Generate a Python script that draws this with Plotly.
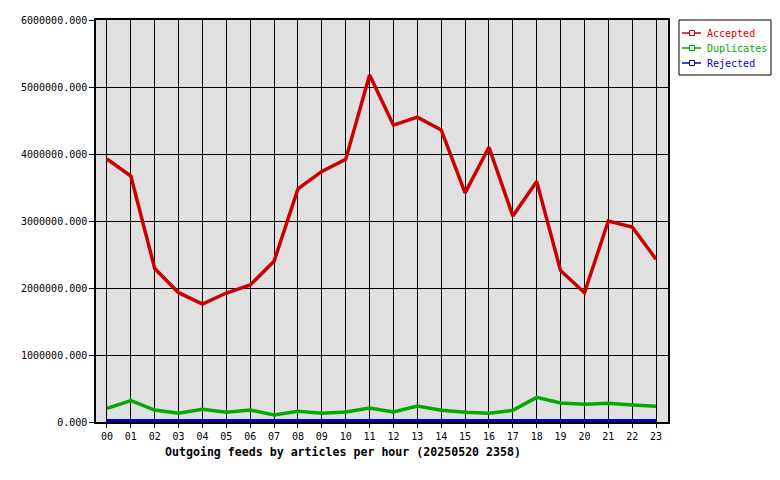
import plotly.graph_objects as go

hours = ["%02d" % h for h in range(24)]
accepted = [3925000, 3670000, 2290000, 1930000, 1760000, 1925000, 2045000, 2400000,
            3480000, 3740000, 3920000, 5180000, 4430000, 4550000, 4360000, 3420000,
            4100000, 3075000, 3590000, 2260000, 1930000, 3000000, 2910000, 2430000]
duplicates = [204000, 318000, 179000, 130000, 190000, 145000, 179000, 104000,
              160000, 130000, 149000, 209000, 149000, 239000, 174000, 145000,
              130000, 174000, 368000, 284000, 264000, 279000, 254000, 234000]
rejected = [18000] * 24

names = ["Accepted", "Duplicates", "Rejected"]
line_colors = ["#cc0000", "#00aa00", "#0000bb"]
text_colors = ["#dd0000", "#00aa00", "#0000dd"]
values = [accepted, duplicates, rejected]

# plot area in reference-image pixels; the page body adds an 8px margin on each side
OFF = 8
L, R, T, B = 96, 668, 20, 422
W, H = 780 - 2 * OFF, 480 - 2 * OFF


def px(x):
    return (x - L) / (R - L)


def py(y):
    return (B - y) / (B - T)


fig = go.Figure()
for name, vals, col in zip(names, values, line_colors):
    fig.add_trace(go.Scatter(x=hours, y=vals, mode="lines", name=name, showlegend=False,
                             line=dict(color=col, width=3.5)))

mono = "DejaVu Sans Mono, monospace"

# manual legend (box, sample lines, markers, labels)
shapes = [dict(type="rect", xref="paper", yref="paper", x0=px(679), x1=px(771),
               y0=py(20), y1=py(75), line=dict(color="black", width=1), fillcolor="white")]
annotations = []
for i, (name, col, tcol) in enumerate(zip(names, line_colors, text_colors)):
    yy = 33 + 15 * i
    shapes.append(dict(type="line", xref="paper", yref="paper", x0=px(682), x1=px(701),
                       y0=py(yy), y1=py(yy), line=dict(color=col, width=1.5)))
    shapes.append(dict(type="rect", xref="paper", yref="paper", x0=px(689.5), x1=px(694.5),
                       y0=py(yy + 2.5), y1=py(yy - 2.5), line=dict(color=col, width=1),
                       fillcolor="white"))
    annotations.append(dict(text=name, xref="paper", yref="paper", x=px(705), y=py(yy + 1),
                            xanchor="left", yanchor="middle", showarrow=False,
                            font=dict(family=mono, size=10, color=tcol)))

annotations.append(dict(text="<b>Outgoing feeds by articles per hour (20250520 2358)</b>",
                        xref="paper", yref="paper", x=px(343), y=py(452),
                        xanchor="center", yanchor="middle", showarrow=False,
                        font=dict(family=mono, size=11.6, color="black")))

fig.update_layout(
    width=W, height=H,
    margin=dict(l=L - OFF, r=W - (R - OFF), t=T - OFF, b=H - (B - OFF), autoexpand=False),
    paper_bgcolor="white", plot_bgcolor="#e0e0e0",
    font=dict(family=mono, size=10, color="black"),
    showlegend=False,
    xaxis=dict(type="category", range=[-0.46, 23.5], showgrid=True, gridcolor="black",
               gridwidth=1, showline=True, linecolor="black", linewidth=1.5, mirror=True,
               ticks="outside", ticklen=4, tickcolor="black", zeroline=False,
               automargin=False, tickfont=dict(family=mono, size=10)),
    yaxis=dict(range=[0, 6000000], dtick=1000000, tickformat=".3f", showgrid=True,
               gridcolor="black", gridwidth=1, showline=True, linecolor="black",
               linewidth=1.5, mirror=True, ticks="outside", ticklen=5, tickcolor="black",
               zeroline=False, automargin=False, tickfont=dict(family=mono, size=10)),
    shapes=shapes,
    annotations=annotations,
)

fig.write_html("out.html")
